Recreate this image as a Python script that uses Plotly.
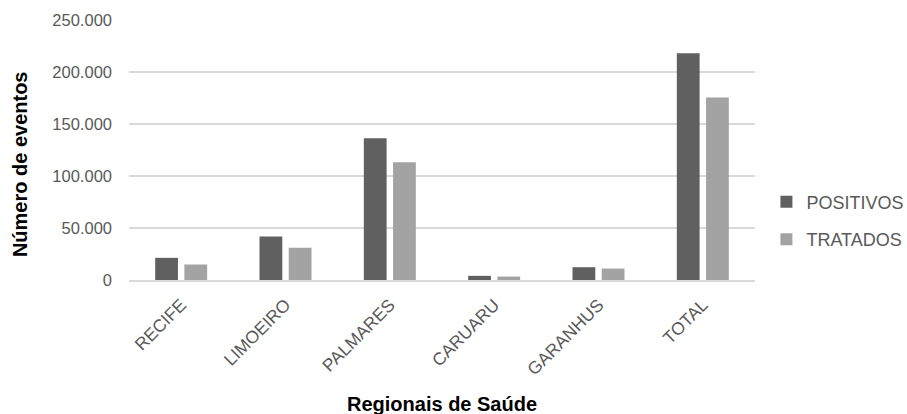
import plotly.graph_objects as go

# Regional health districts and event counts
regionais = ["RECIFE", "LIMOEIRO", "PALMARES", "CARUARU", "GARANHUS", "TOTAL"]
positivos = [21300, 41800, 136300, 4000, 12300, 218000]
tratados = [14900, 31000, 113300, 3300, 11000, 175500]
y_ticks = [0, 50000, 100000, 150000, 200000, 250000]

FONT = "Liberation Sans"
TICK_GREY = "#595959"
GRID = "#d9d9d9"

fig = go.Figure()
fig.add_trace(go.Bar(
    x=regionais, y=positivos, name="POSITIVOS",
    marker=dict(color="#606060", line=dict(width=0)),
    legendgroup="pos",
))
fig.add_trace(go.Bar(
    x=regionais, y=tratados, name="TRATADOS",
    marker=dict(color="#a3a3a3", line=dict(width=0)),
    legendgroup="trat",
))

fig.update_layout(
    width=907, height=414,
    margin=dict(l=129, r=152, t=20, b=134, autoexpand=False),
    paper_bgcolor="white", plot_bgcolor="white",
    separators=",.",
    barmode="group", bargap=0.44, bargroupgap=0.22,
    font=dict(family=FONT, color=TICK_GREY),
    showlegend=True,
    legend=dict(
        xref="container", yref="container",
        x=0.845, xanchor="left", y=0.467, yanchor="middle",
        font=dict(family=FONT, size=18, color=TICK_GREY),
        traceorder="grouped", tracegroupgap=11,
        itemwidth=30, bgcolor="rgba(0,0,0,0)",
    ),
    annotations=[
        dict(text="<b>Número de eventos</b>", xref="paper", yref="paper",
             x=-0.174, y=0.446, xanchor="center", yanchor="middle",
             textangle=-90, showarrow=False,
             font=dict(family=FONT, size=20, color="black")),
        dict(text="<b>Regionais de Saúde</b>", xref="paper", yref="paper",
             x=0.5, y=-0.477, xanchor="center", yanchor="middle",
             showarrow=False,
             font=dict(family=FONT, size=20, color="black")),
    ],
)

fig.update_yaxes(
    range=[0, 250000], tickvals=y_ticks, tickformat=",d",
    showgrid=True, gridcolor=GRID, gridwidth=1.5,
    zeroline=False, showline=False,
    ticklabelstandoff=16,
    tickfont=dict(family=FONT, size=16.5, color=TICK_GREY),
)
fig.update_xaxes(
    tickangle=-45, showgrid=False, zeroline=False,
    showline=True, linecolor=GRID, linewidth=1.5,
    ticklabelstandoff=6,
    tickfont=dict(family=FONT, size=17.5, color=TICK_GREY),
)

fig.write_html("out.html")
